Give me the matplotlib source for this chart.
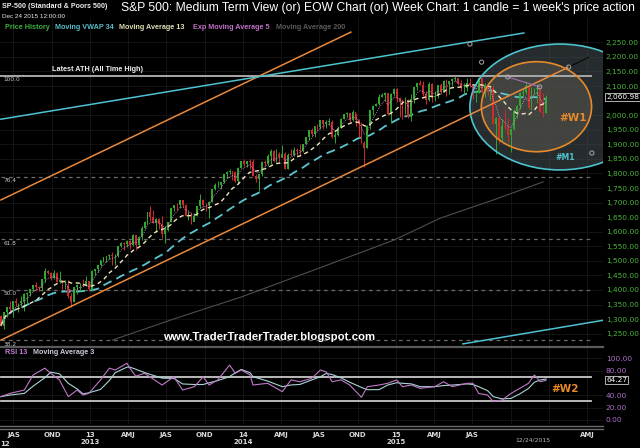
import numpy as np
import pandas as pd
import matplotlib
matplotlib.use('Agg')
import matplotlib.pyplot as plt
import matplotlib.transforms as mtransforms
from matplotlib.patches import Ellipse
from matplotlib.lines import Line2D

plt.rcParams['font.family'] = ['Liberation Sans', 'DejaVu Sans']

# weekly S&P 500 candles, first week ending 2012-06-01
start = pd.Timestamp('2012-06-01')
first_open = 1310

close_2012 = [1278, 1325, 1343, 1335, 1362, 1354, 1356, 1362, 1386, 1391, 1405, 1418, 1411, 1406, 1438, 1465,
              1460, 1441, 1460, 1429, 1433, 1412, 1414, 1380, 1359, 1409, 1416, 1418, 1413, 1430, 1402]
high_2012 = [1313, 1325, 1343, 1363, 1362, 1374, 1357, 1381, 1391, 1394, 1405, 1418, 1427, 1413, 1438, 1474,
             1468, 1461, 1470, 1461, 1465, 1434, 1434, 1434, 1389, 1409, 1419, 1423, 1438, 1448, 1430]
low_2012 = [1277, 1266, 1306, 1324, 1309, 1346, 1325, 1345, 1329, 1354, 1379, 1397, 1398, 1397, 1398, 1429,
            1454, 1434, 1439, 1426, 1425, 1403, 1403, 1374, 1343, 1358, 1385, 1398, 1412, 1413, 1398]

close_2013 = [1466, 1472, 1486, 1503, 1513, 1518, 1520, 1516, 1518, 1551, 1561, 1557, 1569, 1553, 1588, 1555,
              1582, 1614, 1633, 1667, 1650, 1631, 1643, 1627, 1593, 1606, 1632, 1680, 1692, 1691, 1710, 1691,
              1655, 1664, 1633, 1655, 1688, 1710, 1692, 1690, 1703, 1745, 1760, 1762, 1771, 1798, 1805, 1806,
              1805, 1775, 1818, 1841]
high_2013 = [1467, 1472, 1486, 1503, 1514, 1518, 1524, 1530, 1525, 1552, 1564, 1563, 1570, 1573, 1593, 1589,
             1585, 1618, 1636, 1667, 1687, 1673, 1646, 1648, 1654, 1620, 1632, 1680, 1693, 1698, 1710, 1710,
             1695, 1670, 1669, 1664, 1689, 1730, 1711, 1700, 1704, 1745, 1767, 1775, 1772, 1799, 1808, 1814,
             1807, 1809, 1823, 1843]
low_2013 = [1398, 1451, 1463, 1484, 1496, 1495, 1506, 1486, 1485, 1514, 1547, 1538, 1546, 1539, 1551, 1536,
            1554, 1573, 1610, 1628, 1636, 1630, 1598, 1608, 1577, 1560, 1601, 1632, 1670, 1676, 1680, 1684,
            1654, 1640, 1627, 1637, 1655, 1682, 1686, 1670, 1646, 1702, 1744, 1752, 1746, 1768, 1784, 1799,
            1779, 1772, 1767, 1817]

close_2014 = [1831, 1842, 1839, 1790, 1782, 1797, 1838, 1836, 1859, 1878, 1841, 1866, 1857, 1865, 1815, 1864,
              1863, 1881, 1878, 1877, 1900, 1924, 1949, 1936, 1963, 1961, 1985, 1968, 1978, 1978, 1925, 1931,
              1955, 1988, 2003, 2007, 1985, 2010, 1982, 1968, 1906, 1887, 1964, 2018, 2032, 2039, 2064, 2068,
              2075, 2003, 2071, 2089]
high_2014 = [1849, 1843, 1850, 1850, 1798, 1798, 1841, 1847, 1867, 1884, 1881, 1883, 1875, 1897, 1873, 1869,
             1884, 1891, 1887, 1902, 1901, 1924, 1950, 1955, 1964, 1968, 1985, 1984, 1984, 1991, 1985, 1942,
             1964, 1991, 2005, 2011, 2008, 2019, 2009, 1986, 1977, 1912, 1965, 2018, 2034, 2042, 2071, 2075,
             2079, 2076, 2077, 2093]
low_2014 = [1827, 1823, 1815, 1790, 1772, 1738, 1792, 1824, 1826, 1834, 1839, 1840, 1839, 1857, 1814, 1815,
            1860, 1859, 1859, 1862, 1873, 1900, 1915, 1929, 1925, 1944, 1953, 1952, 1955, 1965, 1922, 1905,
            1928, 1955, 1986, 1995, 1978, 1979, 1964, 1926, 1906, 1821, 1886, 1951, 2001, 2030, 2035, 2062,
            2050, 2002, 1973, 2066]

close_2015 = [2058, 2045, 2019, 2051, 1995, 2055, 2097, 2110, 2105, 2071, 2053, 2108, 2061, 2067, 2102, 2081,
              2117, 2108, 2116, 2123, 2126, 2107, 2092, 2094, 2110, 2102, 2077, 2077, 2127, 2080, 2104, 2078,
              2092, 1971, 1989, 1921, 1962, 1958, 1932, 1951, 2015, 2033, 2075, 2079, 2099, 2023, 2089, 2090,
              2092, 2012, 2006, 2060.98]
high_2015 = [2093, 2064, 2056, 2064, 2057, 2072, 2097, 2110, 2119, 2118, 2083, 2114, 2110, 2084, 2103, 2111,
             2120, 2125, 2117, 2126, 2135, 2129, 2121, 2109, 2126, 2129, 2103, 2085, 2129, 2132, 2112, 2112,
             2103, 2102, 1992, 1993, 1988, 2021, 1990, 1953, 2020, 2034, 2080, 2094, 2116, 2101, 2097, 2094,
             2104, 2093, 2076, 2068]
low_2015 = [2046, 1993, 1988, 2004, 1989, 1980, 2041, 2085, 2103, 2067, 2039, 2048, 2045, 2049, 2059, 2072,
            2080, 2067, 2074, 2099, 2117, 2103, 2082, 2073, 2084, 2096, 2056, 2044, 2077, 2077, 2063, 2068,
            2052, 1971, 1867, 1903, 1910, 1953, 1908, 1872, 1949, 1990, 2021, 2066, 2072, 2022, 2019, 2074,
            2042, 2011, 1993, 2006]

close = np.array(close_2012 + close_2013 + close_2014 + close_2015, dtype=float)
high = np.array(high_2012 + high_2013 + high_2014 + high_2015, dtype=float)
low = np.array(low_2012 + low_2013 + low_2014 + low_2015, dtype=float)
opn = np.concatenate([[first_open], close[:-1]])
weeks = np.arange(len(close))

# moving average 200
ma200_week = [38, 60, 82, 108, 134, 150, 168, 185]
ma200_val = [1228, 1304, 1376, 1473, 1571, 1647, 1709, 1771]

# RSI 13
rsi_week = [0, 3, 8, 11, 15, 17, 20, 23, 26, 28, 30, 34, 37, 39, 43, 44, 46, 49, 55, 59, 62, 66, 69, 71, 74,
            78, 80, 82, 85, 86, 91, 96, 99, 102, 106, 109, 111, 113, 116, 119, 123, 125, 129, 132, 135, 137,
            140, 143, 148, 151, 154, 159, 161, 163, 166, 168, 171, 174, 177, 180, 182, 184, 186]
rsi_val = [37.8, 43, 48.6, 73, 84, 75.7, 64.8, 37.8, 48.6, 40.5, 43.2, 65, 84, 81, 92, 84, 71, 75.7, 56.7, 70,
           48.6, 54, 70, 56.7, 65, 89, 75.7, 81, 73, 56.7, 59.5, 45.9, 65, 62, 67.5, 81, 78, 62, 65, 56.7,
           36.8, 54, 56.7, 59.5, 65, 54, 56.7, 51.3, 54, 62, 54, 59.5, 59.5, 43, 40.5, 29.7, 32.4, 43, 51.3,
           59.5, 73, 62, 64.27]

# fibonacci retracement (2009 low -> all time high)
fib_low = 666.79
ath = 2134.72
fib_ratios = [1.0, 0.764, 0.618, 0.5, 0.382]
fib_labels = ['100.0', '76.4', '61.8', '50.0', '38.2']

# trend lines: (week, price) end points
orange_low = [(0, 1228), (193.7, 2165)]
orange_high = [(0, 1709), (119.4, 2285)]
cyan_high = [(0, 1986), (178.4, 2282)]
cyan_low = [(157.6, 1215), (206, 1297)]
handles = [(160, 2244), (164, 2182), (172.9, 2131), (183.8, 2097), (193.7, 2165), (201.6, 1870)]

price_ticks = [p for p in range(1250, 2251, 50) if p != 2050]
quarters = ['2012-07-01', '2012-10-01', '2013-01-01', '2013-04-01', '2013-07-01', '2013-10-01',
            '2014-01-01', '2014-04-01', '2014-07-01', '2014-10-01', '2015-01-01', '2015-04-01',
            '2015-07-01', '2015-10-01', '2016-01-01', '2016-04-01']
quarter_labels = ['JAS', 'OND', '13\n2013', 'AMJ', 'JAS', 'OND', '14\n2014', 'AMJ', 'JAS', 'OND',
                  '15\n2015', 'AMJ', 'JAS', '', '', 'AMJ']
quarter_pos = [(pd.Timestamp(q) - start).days / 7 for q in quarters]

W, H = 640, 448
fig = plt.figure(figsize=(6.4, 4.48), dpi=100, facecolor='black')


def fx(px):
    return px / W


def fy(py):
    return 1 - py / H


ax = fig.add_axes([0, fy(346), fx(603), (346 - 18) / H], facecolor='black')
ax_r = fig.add_axes([0, fy(424), fx(603), (424 - 348) / H], facecolor='black', sharex=ax)

px_per_pt = 0.2914
ax.set_ylim(2250 - (346 - 42.3) / px_per_pt, 2250 + (42.3 - 18) / px_per_pt)
ax.set_xlim(-0.3, 205.4)
ax_r.set_ylim(-6.5, 116.7)

for a in (ax, ax_r):
    for s in a.spines.values():
        s.set_visible(False)
    a.yaxis.tick_right()
    a.grid(True, color='#171717', lw=0.6)
    a.set_axisbelow(True)

ax.set_yticks(price_ticks)
ax.set_yticklabels(['{:,.2f}'.format(v) for v in price_ticks])
ax.tick_params(axis='y', length=0, pad=2, labelsize=5.3, labelcolor='#4cb43c')
ax.tick_params(axis='x', length=0, labelbottom=False)
for lab in ax.get_yticklabels():
    lab.set_family('DejaVu Sans')

ax_r.set_yticks([0, 20, 40, 80, 100])
ax_r.set_yticklabels(['0.00', '20.00', '40.00', '80.00', '100.00'])
ax_r.tick_params(axis='y', length=0, pad=2, labelsize=5.3, labelcolor='#b070c8')
ax_r.set_xticks(quarter_pos)
ax_r.set_xticklabels(quarter_labels)
ax_r.tick_params(axis='x', length=0, pad=6, labelsize=5, labelcolor='#d8d8d8')
for lab in ax_r.get_xticklabels() + ax_r.get_yticklabels():
    lab.set_family('DejaVu Sans')
for lab in ax_r.get_xticklabels():
    lab.set_fontweight('bold')
    lab.set_linespacing(1.2)

# ellipses
ax.add_patch(Ellipse((190.7, 2028), 61.4, 432, facecolor='#404a4e', alpha=0.6, edgecolor='none', zorder=1))
ax.add_patch(Ellipse((190.7, 2028), 61.4, 432, facecolor='none', edgecolor='#4ec3cf', lw=1.2, zorder=6))
ax.add_patch(Ellipse((182.7, 2029), 37.6, 309, facecolor='#5e5a50', alpha=0.5, edgecolor='none', zorder=1))
ax.add_patch(Ellipse((182.7, 2029), 37.6, 309, facecolor='none', edgecolor='#e8892c', lw=1.2, zorder=6))

# fib levels and ATH
for r, lab in zip(fib_ratios, fib_labels):
    lvl = fib_low + r * (ath - fib_low)
    if r == 1.0:
        ax.plot([0, 201.2], [lvl, lvl], color='#a8a8a8', lw=1.4, zorder=2)
    else:
        ax.plot([0, 201.2], [lvl, lvl], color='#6a6a6a', lw=0.9, dashes=(3, 3), zorder=2)
    ax.text(1.0, lvl - 5, lab, color='#c8c8c8', fontsize=4.2, va='top', ha='left', family='DejaVu Sans')
ax.text(17.3, ath + 9, 'Latest ATH (All Time High)', color='#f0f0f0', fontsize=5.2, fontweight='bold',
        va='bottom', ha='left')

# moving averages
s = pd.Series(close)
ax.plot(ma200_week, ma200_val, color='#4e4e4e', lw=0.8, zorder=2)
ax.plot(weeks, s.rolling(34, min_periods=1).mean(), color='#5cc6d0', lw=1.3, dashes=(5, 3), zorder=3)
ax.plot(weeks, s.rolling(13, min_periods=1).mean(), color='#ece6bc', lw=1.0, dashes=(3, 2.5), zorder=5)
ax.plot(weeks, s.ewm(span=5, adjust=False).mean(), color='#d8a0d8', lw=0.6, dashes=(1, 1.5), zorder=5)

# candles
up = close >= opn
cols = np.where(up, '#2fa82f', '#d02a30')
ax.vlines(weeks, low, high, colors=cols, lw=0.7, zorder=4)
body_h = np.maximum(np.abs(close - opn), 2)
ax.bar(weeks, body_h, bottom=np.minimum(opn, close), width=0.62, color=cols, zorder=4, linewidth=0)

# trend lines
for seg, c in [(orange_low, '#e8893c'), (orange_high, '#e8893c'), (cyan_high, '#4ec3cf'), (cyan_low, '#4ec3cf')]:
    ax.plot([seg[0][0], seg[1][0]], [seg[0][1], seg[1][1]], color=c, lw=1.1, zorder=6)
ax.plot([172.9, 183.8], [2131, 2097], color='#a070b8', lw=0.8, zorder=6)
ax.plot([193.7, 200.5], [2165, 2199], color='#080808', lw=0.8, zorder=6)
hx, hy = zip(*handles)
ax.scatter(hx, hy, s=9, facecolors='none', edgecolors='#a8a8a8', linewidths=0.7, zorder=7)

ax.text(195.0, 1990, '#W1', color='#e8892c', fontsize=7.5, fontweight='bold',
        ha='center', va='center', family='DejaVu Sans', zorder=8)
ax.text(192.7, 1853, '#M1', color='#4ec3cf', fontsize=5.6, fontweight='bold',
        ha='center', va='center', family='DejaVu Sans', zorder=8)

# last price box
trans = mtransforms.blended_transform_factory(ax.transAxes, ax.transData)
ax.text(1.005, close[-1], '{:,.2f}'.format(close[-1]), transform=trans, color='white', fontsize=5.3,
        va='center', ha='left', family='DejaVu Sans', clip_on=False,
        bbox=dict(boxstyle='square,pad=0.15', fc='black', ec='#d0d0d0', lw=0.6))

# RSI panel
ax_r.plot([0, 201.2], [70, 70], color='#c8c8c8', lw=1.3, zorder=2)
ax_r.plot([0, 201.2], [30, 30], color='#c8c8c8', lw=1.3, zorder=2)
ax_r.plot(rsi_week, pd.Series(rsi_val).rolling(3, min_periods=1).mean(), color='#a8d4d4', lw=0.8, zorder=3)
ax_r.plot(rsi_week, rsi_val, color='#c078c8', lw=0.8, zorder=4)
trans_r = mtransforms.blended_transform_factory(ax_r.transAxes, ax_r.transData)
ax_r.text(1.005, rsi_val[-1], '{:.2f}'.format(rsi_val[-1]), transform=trans_r, color='white', fontsize=5.3,
          va='center', ha='left', family='DejaVu Sans', clip_on=False,
          bbox=dict(boxstyle='square,pad=0.15', fc='black', ec='#d0d0d0', lw=0.6))
ax_r.text(192.5, 51, '#W2', color='#e8892c', fontsize=7.5, fontweight='bold', ha='center', va='center',
          family='DejaVu Sans')

# separators
for py, c, w in [(346.5, '#5a5a5a', 1.6), (425.5, '#6a6a6a', 1.0), (428.5, '#6a6a6a', 1.0)]:
    fig.add_artist(Line2D([0, fx(603)], [fy(py), fy(py)], color=c, lw=w))

# header texts
fig.text(fx(2), fy(6), 'SP-500 (Standard & Poors 500)', color='#ececec', fontsize=5.1, fontweight='bold',
         va='center')
fig.text(fx(2), fy(16), 'Dec 24 2015 12:00:00', color='#ececec', fontsize=4.6, va='center')
fig.text(fx(121), fy(7.5), "S&P 500: Medium Term View (or) EOW Chart (or) Week Chart: 1 candle = 1 week's price action",
         color='white', fontsize=8.7, va='center')
legend = [(5, 'Price History', '#3cb040'), (55, 'Moving VWAP 34', '#58bcc8'),
          (119, 'Moving Average 13', '#e0dcb4'), (193, 'Exp Moving Average 5', '#c070c8'),
          (276, 'Moving Average 200', '#5a5a5a')]
for x0, lab, c in legend:
    fig.text(fx(x0), fy(27.3), lab, color=c, fontsize=5.2, fontweight='bold', va='center')
fig.text(fx(5), fy(352.7), 'RSI 13', color='#c080d0', fontsize=5.2, fontweight='bold', va='center')
fig.text(fx(33), fy(352.7), 'Moving Average 3', color='#d0c8d8', fontsize=5.2, fontweight='bold', va='center')
fig.text(fx(163), fy(337), 'www.TraderTraderTrader.blogspot.com', color='white', fontsize=8.2,
         fontweight='bold', va='center')
fig.text(fx(533), fy(439.5), '12/24/2015', color='#b8b8b8', fontsize=4.4, ha='center', va='center',
         family='DejaVu Sans')
fig.text(fx(5), fy(443.5), '12', color='#d8d8d8', fontsize=5, fontweight='bold', ha='center', va='center',
         family='DejaVu Sans')

fig.savefig('out.png', dpi=100, facecolor='black')
